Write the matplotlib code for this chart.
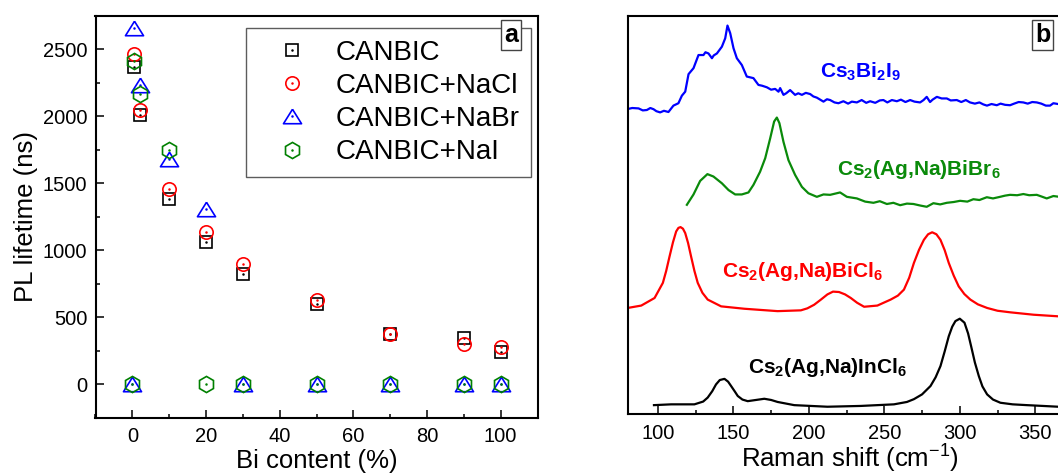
import matplotlib
matplotlib.use("Agg")
import matplotlib.pyplot as plt
from matplotlib.lines import Line2D
from matplotlib.legend_handler import HandlerTuple
import numpy as np

plt.rcParams['font.family'] = ['Liberation Sans', 'DejaVu Sans']
plt.rcParams['mathtext.fontset'] = 'custom'
plt.rcParams['mathtext.rm'] = 'Liberation Sans'
plt.rcParams['mathtext.bf'] = 'Liberation Sans:bold'
plt.rcParams['mathtext.it'] = 'Liberation Sans:italic'

# ---------------- Panel a data ----------------
canbic_x = [0.5, 2, 10, 20, 30, 50, 70, 90, 100]
canbic_y = [2370, 2010, 1382, 1057, 819, 598, 374, 341, 240]

nacl_x = [0.5, 2, 10, 20, 30, 50, 70, 90, 100]
nacl_y = [2465, 2046, 1454, 1132, 894, 624, 376, 300, 275]

nabr_x = [0.5, 2, 10, 20, 0, 30, 50, 70, 90, 100]
nabr_y = [2660, 2231, 1680, 1307, 0, 0, 0, 0, 0, 0]

nai_x = [0.5, 2, 10, 0, 20, 30, 50, 70, 90, 100]
nai_y = [2412, 2164, 1748, 0, 0, 0, 0, 0, 0, 0]

series_labels = ['CANBIC', 'CANBIC+NaCl', 'CANBIC+NaBr', 'CANBIC+NaI']

# ---------------- Panel b data ----------------
bi2i9_x = [79.5, 83, 87.2, 90, 92.7, 95, 97.1, 99, 101.5, 104, 107.0, 110.3, 113.6, 115.9,
           118.1, 120.3, 123.6, 126.9, 130.2, 131.5, 133.5, 135.8, 137, 139.1, 142.4, 144.6,
           146.1, 147.9, 150.1, 152.3, 155.6, 158.9, 163.3, 166.6, 169, 172.2, 175, 177.7,
           179.9, 181, 183.2, 185, 187.6, 190.9, 193, 195.4, 198, 200.9, 203, 205.3, 209.7,
           212, 214.1, 217, 219.6, 222.9, 226, 228.5, 231.8, 235, 238, 240.6, 244, 247,
           249.4, 252, 255, 258.3, 261, 264, 267.1, 270, 273.7, 276, 278.1, 280.3, 282,
           284.8, 288, 291.4, 294, 298.0, 301, 304, 306.8, 310, 313, 315.6, 318, 321, 324.5,
           327, 330, 333.3, 336, 339, 342.1, 345, 348, 351.0, 354, 357, 359.8, 362, 365.1,
           368, 371, 375]
bi2i9_y = [76.6, 76.9, 76.8, 76.3, 76.4, 76.9, 76.6, 76.1, 75.8, 76.2, 75.9, 77.5, 78.1, 80.0,
           81.0, 85.4, 86.9, 90.2, 90.2, 90.9, 90.6, 89.4, 90.1, 90.6, 92.3, 94.4,
           97.6, 95.7, 91.9, 89.4, 87.7, 84.8, 84.4, 82.7, 82.5, 82.1, 81.5, 81.7,
           81.0, 81.9, 80.2, 80.6, 81.4, 80.2, 80.6, 80.2, 80.7, 80.4, 79.8, 79.5, 78.5,
           79.1, 78.9, 78.3, 78.1, 78.6, 78.0, 78.5, 78.3, 78.9, 78.2, 78.6, 78.2, 78.8,
           78.9, 78.3, 78.9, 78.6, 79.0, 78.4, 78.9, 78.5, 78.3, 78.9, 79.7, 78.4, 79.0,
           79.7, 79.3, 79.3, 78.8, 78.9, 78.4, 78.9, 78.3, 78.0, 78.3, 77.8, 77.5, 77.9, 77.6,
           78.0, 77.7, 77.6, 78.0, 78.4, 78.3, 78.0, 78.4, 78.3, 78.0, 77.5, 77.5, 78.1, 77.9,
           77.6, 78.0, 77.8]

bibr_x = [119.2, 123.6, 128.0, 132.8, 136.8, 142.4, 146.8, 151.2, 155.6, 160.0, 163.3, 167.7,
          171.1, 174.4, 177.0, 178.8, 180.5, 183.2, 186.5, 190.9, 195.4, 199.7, 205.3, 209.7,
          214.1, 220.7, 225.2, 231.8, 237.3, 242.8, 247, 251.7, 256, 260.5, 265, 269.3,
          274, 278.1, 282.5, 287, 291.4, 296, 300.2, 305, 309.0, 313, 317.9, 322, 326.7,
          330, 333.3, 338, 342.1, 346, 351.0, 354, 357.6, 362.0, 366, 370, 375]
bibr_y = [52.6, 55.2, 58.6, 60.3, 59.7, 58.0, 56.3, 55.2, 55.2, 55.7, 57.6, 60.9,
          64.3, 69.3, 73.5, 74.5, 73.1, 68.4, 63.8, 60.1, 57.1, 55.5, 54.6, 55.2,
          55.1, 55.7, 54.6, 54.2, 53.4, 53.1, 53.5, 52.8, 53.1, 52.5, 52.9, 52.8,
          52.4, 52.1, 53.0, 52.7, 53.1, 53.3, 53.6, 53.4, 54.0, 53.8, 54.5, 54.2, 54.6,
          54.9, 55.1, 55.0, 55.3, 55.0, 55.1, 54.7, 54.2, 54.8, 54.6, 54.9, 54.7]

bicl_x = [80, 89, 97.8, 103.3, 105.5, 107.7, 110, 112.1, 113.6, 115.0, 116.6, 118.1, 120,
          122.0, 124.2, 126.4, 129.5, 133.0, 141.9, 157.3, 179.3, 194.7, 199, 203.5, 208,
          212.3, 216, 220.0, 224, 227.8, 232, 236.6, 245.4, 254.2, 259, 263.0, 266.5, 269.6,
          273, 276.2, 279, 281.7, 284.5, 287.2, 290, 292.7, 296, 299.3, 303, 307.0, 312,
          318.1, 325, 333.5, 348.9, 365.2, 375]
bicl_y = [26.7, 27.3, 29.2, 33.0, 36.0, 39.6, 43.2, 45.9, 46.8, 47.0, 46.6, 45.5, 43.0,
          39.6, 36.0, 33.0, 30.5, 28.8, 27.1, 26.5, 25.9, 26.1, 26.6, 27.5, 28.8,
          30.1, 30.8, 30.7, 30.1, 29.2, 28.0, 27.0, 27.3, 28.8, 29.8, 31.3, 34.3, 38.0,
          41.3, 43.8, 45.2, 45.7, 45.2, 43.8, 41.2, 38.0, 34.8, 32.1, 30.2, 28.8, 27.6,
          26.7, 26.0, 25.6, 25.0, 24.6, 24.5]

incl_x = [97.4, 108.8, 124.2, 130, 133.0, 136, 138.5, 141, 144.1, 146.5, 148.5, 151, 152.9,
          156, 159.5, 165, 170.5, 175, 179.3, 190.3, 212.3, 234.4, 256.4, 265, 269.6, 275,
          280.6, 284, 287.2, 290, 292.7, 295, 297.1, 300.0, 303.1, 305.5, 307.5, 310, 312.6,
          315, 318.1, 322, 326.9, 335, 344.5, 355, 365.2, 375]
incl_y = [2.3, 2.5, 2.5, 3.2, 4.2, 5.8, 7.5, 8.6, 8.9, 8.2, 7.1, 5.7, 4.6,
          3.7, 3.3, 3.6, 3.9, 3.6, 3.1, 2.3, 1.9, 2.1, 2.5, 3.1, 3.8, 5.0,
          7.1, 9.3, 12.1, 15.8, 19.6, 22.0, 23.4, 24.0, 23.0, 20.3, 17.1, 13.0, 9.6,
          7.0, 5.0, 3.7, 2.9, 2.5, 2.3, 2.1, 1.9, 1.9]

W, H = 1058, 476
fig = plt.figure(figsize=(W / 100, H / 100), dpi=100)

def frac(l, t, r, b):
    return [l / W, (H - b) / H, (r - l) / W, (b - t) / H]

# ---------------- Panel a ----------------
axa = fig.add_axes(frac(95.5, 15.8, 537.5, 417.5))
ms_sq, ms_ci, ms_tr, ms_hx = 9.0, 9.6, 13.0, 11.6
tri = [(0, 0.8), (-1, -0.8), (1, -0.8), (0, 0.8)]
mew = 1.2
styles = [
    (canbic_x, canbic_y, 'black', 's', ms_sq),
    (nacl_x, nacl_y, 'red', 'o', ms_ci),
    (nabr_x, nabr_y, 'blue', tri, ms_tr),
    (nai_x, nai_y, 'green', 'h', ms_hx),
]
handles = []
for xs, ys, c, m, ms in styles:
    axa.plot(xs, ys, linestyle='none', marker=m, markersize=ms, markerfacecolor='none',
             markeredgecolor=c, markeredgewidth=mew, clip_on=False)
    axa.plot(xs, ys, linestyle='none', marker='o', markersize=1.8, color=c,
             markeredgewidth=0)
    h1 = Line2D([], [], linestyle='none', marker=m, markersize=ms, markerfacecolor='none',
                markeredgecolor=c, markeredgewidth=mew)
    h2 = Line2D([], [], linestyle='none', marker='o', markersize=1.8, color=c,
                markeredgewidth=0)
    handles.append((h1, h2))

axa.set_xlim(-10, 110)
axa.set_ylim(-250, 2750)
axa.set_xticks([0, 20, 40, 60, 80, 100])
axa.set_xticks(np.arange(-10, 111, 10), minor=True)
axa.set_yticks([0, 500, 1000, 1500, 2000, 2500])
axa.set_yticks(np.arange(-250, 2751, 250), minor=True)
axa.tick_params(which='both', direction='in', top=False, right=False, labelsize=14.5, width=1.1)
axa.tick_params(which='major', length=5.5)
axa.tick_params(which='minor', length=3)
axa.tick_params(axis='x', pad=7)
axa.tick_params(axis='y', pad=6)
for s in axa.spines.values():
    s.set_linewidth(1.5)
axa.set_xlabel('Bi content (%)', fontsize=18.5, labelpad=2)
axa.set_ylabel('PL lifetime (ns)', fontsize=18.5, labelpad=3)

leg = axa.legend(handles, series_labels, loc='upper right', bbox_to_anchor=(0.985, 0.9696),
                 borderaxespad=0, fontsize=20, frameon=True, fancybox=False,
                 edgecolor='#333333', borderpad=0.42, handlelength=2.5, handletextpad=0.3,
                 labelspacing=0.26, handler_map={tuple: HandlerTuple(ndivide=1)})
leg.get_frame().set_linewidth(1.0)
leg.set_zorder(5)

axa.text(0.941, 0.952, 'a', transform=axa.transAxes, fontsize=18, fontweight='bold',
         ha='center', va='center', zorder=10,
         bbox=dict(boxstyle='square,pad=0.12', facecolor='white', edgecolor='#444444',
                   linewidth=1.0))

# ---------------- Panel b ----------------
axb = fig.add_axes(frac(627.7, 16.0, 1073.0, 414.3))
axb.plot(bi2i9_x, bi2i9_y, color='blue', lw=1.6)
axb.plot(bibr_x, bibr_y, color='#0a8a0a', lw=1.6)
axb.plot(bicl_x, bicl_y, color='red', lw=1.6)
axb.plot(incl_x, incl_y, color='black', lw=1.6)
axb.set_xlim(80, 375)
axb.set_ylim(0, 100)
axb.set_xticks([100, 150, 200, 250, 300, 350])
axb.set_xticks(np.arange(100, 376, 25), minor=True)
axb.set_yticks([])
axb.tick_params(which='both', direction='in', top=False, right=False, labelsize=14.5, width=1.1)
axb.tick_params(which='major', length=5.5)
axb.tick_params(which='minor', length=3)
axb.tick_params(axis='x', pad=7)
for s in axb.spines.values():
    s.set_linewidth(1.5)
axb.set_xlabel('Raman shift (cm$^{-1}$)', fontsize=18.5, labelpad=0)

lab_kw = dict(fontsize=15, fontweight='bold', ha='left', va='baseline')
axb.text(207.5, 84.4, r'Cs$_\mathbf{3}$Bi$_\mathbf{2}$I$_\mathbf{9}$', color='blue', **lab_kw)
axb.text(218.5, 60.1, r'Cs$_\mathbf{2}$(Ag,Na)BiBr$_\mathbf{6}$', color='#0a8a0a', **lab_kw)
axb.text(142.4, 34.5, r'Cs$_\mathbf{2}$(Ag,Na)BiCl$_\mathbf{6}$', color='red', **lab_kw)
axb.text(160.0, 10.3, r'Cs$_\mathbf{2}$(Ag,Na)InCl$_\mathbf{6}$', color='black', **lab_kw)

axb.text(0.932, 0.9535, 'b', transform=axb.transAxes, fontsize=18, fontweight='bold',
         ha='center', va='center', zorder=10,
         bbox=dict(boxstyle='square,pad=0.12', facecolor='white', edgecolor='#444444',
                   linewidth=1.0))

fig.savefig('out.png', dpi=100)
